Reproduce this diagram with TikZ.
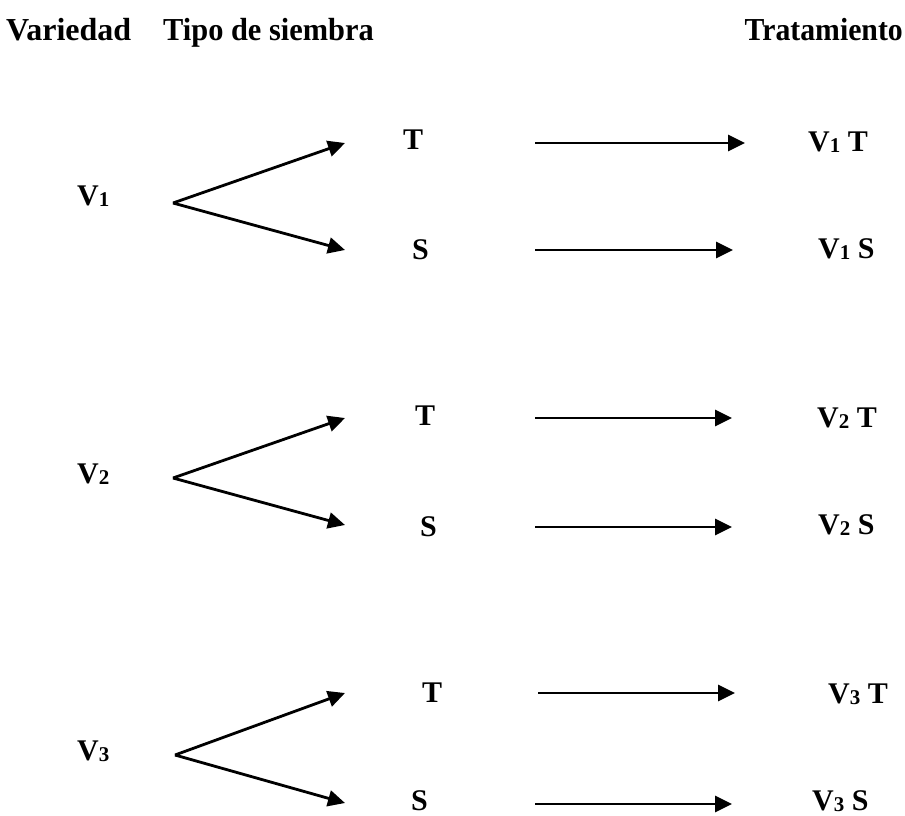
\documentclass[tikz,border=0pt]{standalone}
\usepackage{fontspec}
\setmainfont{Liberation Serif}
\usetikzlibrary{arrows.meta}
\newcommand{\vsub}[1]{\raisebox{-0.06em}{\fontsize{21}{21}\selectfont #1}}

\begin{document}
\begin{tikzpicture}[x=1pt, y=-1pt,
        head/.style={anchor=base west, inner sep=0pt, font=\fontsize{32}{32}\selectfont\bfseries},
        lab/.style={anchor=base west, inner sep=0pt, font=\fontsize{30}{30}\selectfont\bfseries},
        arr/.style={line width=2.8pt, -{Triangle[length=17pt, width=16pt]}}]
        \useasboundingbox (0,0) rectangle (905,815);

        % Draw headings
        \node[head] (hvar) at (6,40) {Variedad};
        \node[head] (htipo) at (163,40) {\scalebox{0.95}[1]{Tipo de siembra}};
        \node[head, anchor=base east] (htrat) at (903,40) {\scalebox{0.93}[1]{Tratamiento}};

        % Draw varieties
        \node[lab] (v1) at (77,205) {V\vsub{1}};
        \node[lab] (v2) at (77,483) {V\vsub{2}};
        \node[lab] (v3) at (77,760) {V\vsub{3}};

        % Draw sowing types
        \node[lab] (t1) at (403,149) {T};
        \node[lab] (s1) at (412,259) {S};
        \node[lab] (t2) at (415,425) {T};
        \node[lab] (s2) at (420,536) {S};
        \node[lab] (t3) at (422,702) {T};
        \node[lab] (s3) at (411,810) {S};

        % Draw treatments
        \node[lab] (vt1) at (808,151) {V\vsub{1} T};
        \node[lab] (vs1) at (818,258) {V\vsub{1} S};
        \node[lab] (vt2) at (817,427) {V\vsub{2} T};
        \node[lab] (vs2) at (818,534) {V\vsub{2} S};
        \node[lab] (vt3) at (828,703) {V\vsub{3} T};
        \node[lab] (vs3) at (812,810) {V\vsub{3} S};

        % Arrow end points
        \coordinate (f1) at (173,203);
        \coordinate (ft1) at (345,143);
        \coordinate (fs1) at (345,250);
        \coordinate (f2) at (173,478);
        \coordinate (ft2) at (345,418);
        \coordinate (fs2) at (345,525);
        \coordinate (f3) at (175,755);
        \coordinate (ft3) at (345,693);
        \coordinate (fs3) at (345,803);

        \coordinate (at1) at (535,143);  \coordinate (bt1) at (745,143);
        \coordinate (as1) at (535,250);  \coordinate (bs1) at (733,250);
        \coordinate (at2) at (535,418);  \coordinate (bt2) at (732,418);
        \coordinate (as2) at (535,527);  \coordinate (bs2) at (732,527);
        \coordinate (at3) at (538,693);  \coordinate (bt3) at (735,693);
        \coordinate (as3) at (535,804);  \coordinate (bs3) at (732,804);

        % Draw forks
        \draw[arr] (f1) -- (ft1);
        \draw[arr] (f1) -- (fs1);
        \draw[arr] (f2) -- (ft2);
        \draw[arr] (f2) -- (fs2);
        \draw[arr] (f3) -- (ft3);
        \draw[arr] (f3) -- (fs3);

        % Draw treatment arrows
        \draw[arr] (at1) -- (bt1);
        \draw[arr] (as1) -- (bs1);
        \draw[arr] (at2) -- (bt2);
        \draw[arr] (as2) -- (bs2);
        \draw[arr] (at3) -- (bt3);
        \draw[arr] (as3) -- (bs3);
    \end{tikzpicture}
\end{document}
